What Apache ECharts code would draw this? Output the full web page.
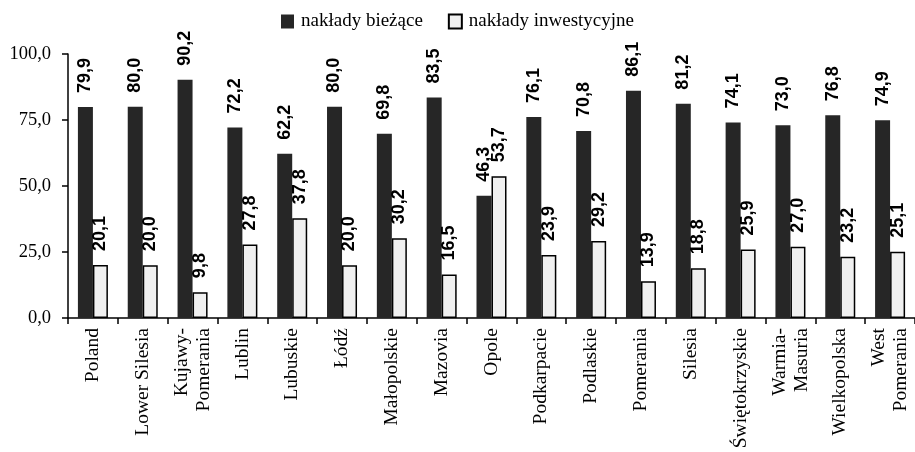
<!DOCTYPE html>
<html>
<head>
<meta charset="utf-8">
<script src="https://cdn.jsdelivr.net/npm/echarts@6/dist/echarts.min.js"></script>
<style>html,body{margin:0;padding:0;background:#fff}#chart{width:915px;height:452px}</style>
</head>
<body>
<div id="chart"></div>
<script>
// regiony
var regions = ['Poland', 'Lower Silesia', 'Kujawy-\nPomerania', 'Lublin', 'Lubuskie', 'Łódź', 'Małopolskie', 'Mazovia', 'Opole', 'Podkarpacie', 'Podlaskie', 'Pomerania', 'Silesia', 'Świętokrzyskie', 'Warmia-\nMasuria', 'Wielkopolska', 'West\nPomerania'];
var biezace = [79.9, 80.0, 90.2, 72.2, 62.2, 80.0, 69.8, 83.5, 46.3, 76.1, 70.8, 86.1, 81.2, 74.1, 73.0, 76.8, 74.9];
var inwest = [20.1, 20.0, 9.8, 27.8, 37.8, 20.0, 30.2, 16.5, 53.7, 23.9, 29.2, 13.9, 18.8, 25.9, 27.0, 23.2, 25.1];
var yTicks = [0, 25, 50, 75, 100];

var serif = '"Liberation Serif", "DejaVu Serif", serif';
var fmt = function (v) { return v.toFixed(1).replace('.', ','); };

var barLabel = {
  show: true,
  position: 'top',
  rotate: 90,
  align: 'left',
  verticalAlign: 'middle',
  distance: 14,
  fontFamily: '"Liberation Sans", Arial, sans-serif',
  fontWeight: 'bold',
  fontSize: 18,
  color: '#000',
  formatter: function (p) { return fmt(p.value); }
};

var myChart = echarts.init(document.getElementById('chart'));
var option = {
  backgroundColor: '#ffffff',
  animation: false,
  legend: {
    top: 7,
    left: 'center',
    itemWidth: 13,
    itemHeight: 14,
    itemGap: 25,
    textStyle: { fontFamily: serif, fontSize: 19, color: '#000', padding: [0, 0, 0, 2] },
    data: [
      { name: 'nakłady bieżące', icon: 'rect' },
      { name: 'nakłady inwestycyjne', icon: 'rect' }
    ]
  },
  grid: { left: 68, right: 0, top: 54, bottom: 134 },
  xAxis: {
    type: 'category',
    data: regions,
    axisLine: { lineStyle: { color: '#000', width: 1.5 } },
    axisTick: { show: true, length: 6, lineStyle: { color: '#000', width: 1.5 } },
    axisLabel: {
      rotate: 90,
      interval: 0,
      margin: 10,
      fontFamily: serif,
      fontSize: 19.5,
      lineHeight: 22,
      color: '#000'
    }
  },
  yAxis: {
    type: 'value',
    min: yTicks[0],
    max: yTicks[yTicks.length - 1],
    interval: 25,
    splitLine: { show: false },
    axisLine: { show: true, lineStyle: { color: '#000', width: 1.5 } },
    axisTick: { show: true, length: 6, lineStyle: { color: '#000', width: 1.5 } },
    axisLabel: {
      fontFamily: serif,
      fontSize: 18.5,
      color: '#000',
      margin: 17,
      formatter: function (v) { return fmt(v); }
    }
  },
  series: [
    {
      name: 'nakłady bieżące',
      type: 'bar',
      data: biezace,
      barWidth: 15,
      barGap: '0%',
      itemStyle: { color: '#262626' },
      label: barLabel
    },
    {
      name: 'nakłady inwestycyjne',
      type: 'bar',
      data: inwest,
      barWidth: 15,
      itemStyle: { color: '#f0f0f0', borderColor: '#000', borderWidth: 1.5 },
      label: barLabel
    }
  ]
};
myChart.setOption(option);
</script>
</body>
</html>
